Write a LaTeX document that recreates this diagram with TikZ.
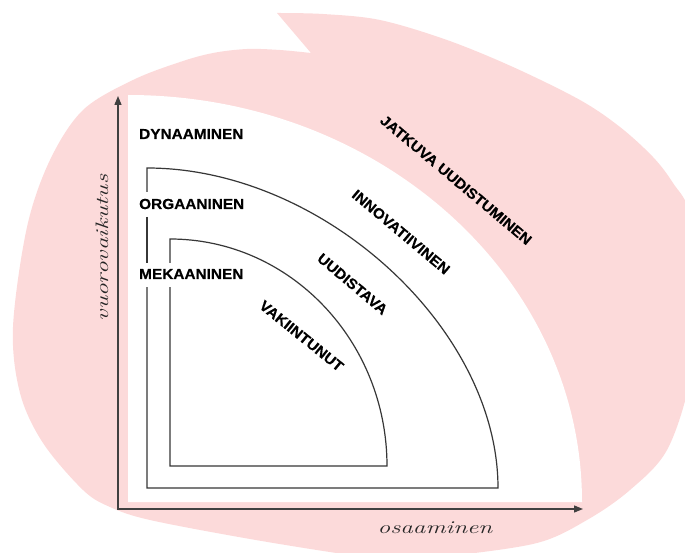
\documentclass[tikz,border=0pt]{standalone}
\usepackage{fontspec}
\newfontfamily\capsfont{Liberation Sans}[FakeStretch=1.06, FakeBold=0.4]
\usetikzlibrary{arrows.meta}
\definecolor{blobpink}{RGB}{252,218,218}
\definecolor{linegray}{RGB}{55,55,55}
\tikzset{
  tag/.style={font=\capsfont\bfseries\fontsize{14.5}{17}\selectfont, inner sep=0pt},
  hand/.style={font=\itshape\fontsize{18}{20}\selectfont, inner sep=0pt, text=black!85},
  zone/.style={draw=linegray, line width=1.2pt},
  axis/.style={draw=black!75, line width=1.3pt, line join=miter,
    {Triangle[length=9pt,width=7pt]}-{Triangle[length=9pt,width=7pt]}},
}
\begin{document}
\begin{tikzpicture}[x=1pt,y=-1pt]
\useasboundingbox (0,0) rectangle (685,553);
\clip (0,0) rectangle (685,553);

% pink background blob with a pointed notch at the top
\fill[blobpink] plot[smooth, tension=0.55] coordinates {
  (277,13) (323,14) (380,20) (447,40) (513,67) (580,100) (620,127)
  (653,157) (673,183) (690,215) (697,300) (690,380) (667,450) (630,490)
  (587,520) (537,543) (450,556) (400,560) (350,555) (250,539) (150,520)
  (110,507) (83,490) (43,443) (20,393) (13,327) (27,227) (50,160)
  (83,110) (133,80) (180,62) (213,53) (247,49) (280,50) (311,53)}
  -- cycle;

% white quarter field
\fill[white] (128,95) .. controls (379,95) and (582,277) .. (582,502)
  -- (128,502) -- cycle;

% outer zone outline (gaps leave room for the labels)
\draw[zone] (147,192) -- (147,168) .. controls (322.5,168) and (498,328) .. (498,488)
  -- (147,488) -- (147,287);
\draw[zone] (147,217) -- (147,263);

% inner zone outline
\draw[zone] (170,263) -- (170,239) .. controls (290,239) and (387,341) .. (387,466)
  -- (170,466) -- (170,287);

% axes
\coordinate (ytip) at (118,96);
\coordinate (origin) at (118,509);
\coordinate (xtip) at (583,509);
\draw[axis] (ytip) -- (origin) -- (xtip);

% axis labels
\node[hand, rotate=90, anchor=base] (ylab) at (108,248) {\scalebox{1.4}[1]{vuorovaikutus}};
\node[hand, anchor=base] (xlab) at (435,533) {\scalebox{1.4}[1]{osaaminen}};

% level labels
\node[tag, anchor=west] (dyn) at (139,134) {DYNAAMINEN};
\node[tag, anchor=west] (org) at (139,204) {ORGAANINEN};
\node[tag, anchor=west] (mek) at (139,274) {MEKAANINEN};

% mode labels along the arcs
\node[tag, rotate=-40] (jat) at (456,180) {JATKUVA UUDISTUMINEN};
\node[tag, rotate=-40] (inn) at (401,232) {INNOVATIIVINEN};
\node[tag, rotate=-40] (uud) at (352.5,284) {UUDISTAVA};
\node[tag, rotate=-39] (vak) at (301.5,336) {VAKIINTUNUT};
\end{tikzpicture}
\end{document}
